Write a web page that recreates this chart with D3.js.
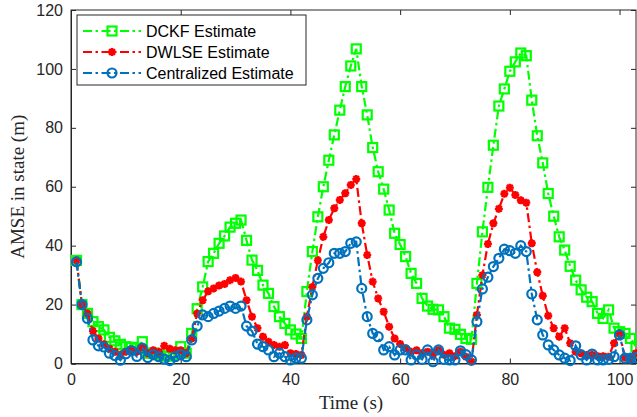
<!DOCTYPE html>
<html><head><meta charset="utf-8">
<script src="https://cdn.jsdelivr.net/npm/d3@7"></script>
<style>body{margin:0;background:#fff}svg{display:block}</style>
</head><body>
<svg id="c" width="637" height="417"></svg>
<script>
const seriesNames = ["DCKF Estimate", "DWLSE Estimate", "Centralized Estimate"];
const xTicks = [0, 20, 40, 60, 80, 100];
const yTicks = [0, 20, 40, 60, 80, 100, 120];
const dckf = [35,20,17,14.2,12.5,11.4,8.9,7.7,6.5,5.7,5.5,5.2,7.4,3.5,3.5,3,2.5,2.5,3,5.7,3.5,10.2,18.6,26,34.6,37.4,40.8,43.3,46.3,47.6,48.7,41.8,35.1,31.6,26.6,23.8,19.3,15.9,13.6,11.4,10,8.5,24.4,38,49.8,60,69,77.6,86,94,101,106.8,94,84.4,73.3,65.1,59.2,52.1,44.2,40.4,36.3,30.6,27.2,22.1,19.5,18.4,18.2,15.9,12,11.6,9.9,8.5,8.2,27.2,44.7,59.8,74.1,87.4,93.2,99.2,102.4,105.4,104.5,89.4,77.3,68.1,57.7,50,43,38.5,33,28.3,25,22.5,21,17,15.3,18.2,12,10.8,10.2,8.5,5.7];
const dwlse = [35,20,17,11,8.5,6.5,5,4,3,4,4.5,4,5.5,3.5,4.5,4,6,5,4.5,4.5,3.5,8.5,17,21.5,24.5,25.5,26.5,27,28.3,29,27.8,21.5,15.9,12,9.1,7.4,6.3,5.7,6.3,3.5,3.2,2.9,15.9,26,35,43,48.7,52.7,55.5,57.8,60.6,62.6,47.6,36.8,27.8,22.1,17.6,12.5,8.5,6.6,5.2,4,4.5,3.5,4,3,4.5,3,3.5,2.5,4,2.3,0.6,16.5,30,40.6,47.6,52.5,57.6,59.7,57.2,55.4,54.6,40.8,31,23,16.2,12,9.1,12,6.9,4,3.5,2.9,3,2.5,2.5,2.3,6.9,10.2,2,1.8,3.5];
const central = [34.5,20,15.3,8,6,5.6,3.5,2.7,1.1,3.3,4.4,2.4,5.2,2,3,2.3,1.5,1,2.3,3,2.3,8,12.7,16.5,15.9,17,17.8,18.7,19.5,18.7,19.5,12.7,11,6.6,5.7,4.6,2.3,3.5,2.3,1.2,1.8,1.8,14.8,23.3,28.9,32.3,34.2,37.4,37.4,38,40.8,41.3,25.5,15.9,10.2,9.1,4.6,5.7,2.9,4.6,4.6,1.2,2.9,1.4,4.6,0.6,4.6,1.4,1.2,1.2,4.3,3,1.2,14.2,25.3,29.3,32.9,35.7,38.8,38.3,37.4,40,38,23.6,14.8,9.7,6.3,4.6,2.9,1.8,1,6,2.9,1.2,3.2,1.2,1.2,1.4,2.3,9.7,1.8,1.8,2];

const svg = d3.select("#c");
const L = 71, R = 636, T = 10, B = 363.5;
const x = d3.scaleLinear().domain([0, 103]).range([L, R]);
const y = d3.scaleLinear().domain([0, 120]).range([B, T]);
const axisColor = "#262626";
const tickFont = "'Liberation Sans', Arial, sans-serif";
const serif = "'Liberation Serif', 'Times New Roman', serif";

svg.append("defs").append("clipPath").attr("id","clip")
  .append("rect").attr("x", L).attr("y", T - 6).attr("width", R - L + 1).attr("height", B - T + 12);

// axes
const gx = svg.append("g").attr("transform", `translate(0,${B})`)
  .call(d3.axisBottom(x).tickValues(xTicks).tickSize(-5).tickPadding(10));
const gy = svg.append("g").attr("transform", `translate(${L},0)`)
  .call(d3.axisLeft(y).tickValues(yTicks).tickSize(-5).tickPadding(8));
const gxt = svg.append("g").attr("transform", `translate(0,${T})`)
  .call(d3.axisTop(x).tickValues(xTicks).tickSize(-5).tickFormat(""));
const gyr = svg.append("g").attr("transform", `translate(${R},0)`)
  .call(d3.axisRight(y).tickValues(yTicks).tickSize(-5).tickFormat(""));
[gx, gy, gxt, gyr].forEach(g => {
  g.select(".domain").attr("stroke", axisColor).attr("stroke-width", 1);
  g.selectAll(".tick line").attr("stroke", axisColor).attr("stroke-width", 1);
  g.selectAll(".tick text").attr("fill", axisColor).attr("font-family", tickFont).attr("font-size", 16);
});
gxt.select(".domain").remove();
gyr.select(".domain").remove();
svg.append("rect").attr("x", L).attr("y", T).attr("width", R - L).attr("height", B - T)
  .attr("fill", "none").attr("stroke", axisColor).attr("stroke-width", 1);

svg.append("text").attr("x", 351).attr("y", 409).attr("text-anchor", "middle")
  .attr("font-family", serif).attr("font-size", 19)
  .attr("fill", axisColor).text("Time (s)");
svg.append("text").attr("transform", `translate(24,${(T + B) / 2}) rotate(-90)`).attr("text-anchor", "middle")
  .attr("font-family", serif).attr("font-size", 19)
  .attr("fill", axisColor).text("AMSE in state (m)");

const styles = [
  {data: dckf, color: "#00ff00", marker: "square"},
  {data: dwlse, color: "#ff0000", marker: "star"},
  {data: central, color: "#0072bd", marker: "circle"}
];
const dash = "9,3.5,2.5,3.5";
const plot = svg.append("g").attr("clip-path", "url(#clip)");
const line = d3.line().x((d, i) => x(i + 1)).y(d => y(d));

function drawMarker(g, type, color, cx, cy) {
  if (type === "square") {
    g.append("rect").attr("x", cx - 4.5).attr("y", cy - 4.5).attr("width", 9).attr("height", 9)
      .attr("fill", "none").attr("stroke", color).attr("stroke-width", 2.2);
  } else if (type === "circle") {
    g.append("circle").attr("cx", cx).attr("cy", cy).attr("r", 4.5)
      .attr("fill", "none").attr("stroke", color).attr("stroke-width", 2.2);
  } else {
    const r = 4, d = r * 0.72;
    g.append("path").attr("d",
      `M${cx - r},${cy}L${cx + r},${cy}M${cx},${cy - r}L${cx},${cy + r}` +
      `M${cx - d},${cy - d}L${cx + d},${cy + d}M${cx - d},${cy + d}L${cx + d},${cy - d}`)
      .attr("stroke", color).attr("stroke-width", 2.4).attr("fill", "none");
  }
}

styles.forEach(s => {
  plot.append("path").datum(s.data).attr("d", line).attr("fill", "none")
    .attr("stroke", s.color).attr("stroke-width", 2.2).attr("stroke-dasharray", dash);
  const mg = plot.append("g");
  s.data.forEach((v, i) => drawMarker(mg, s.marker, s.color, x(i + 1), y(v)));
});

// legend
const lg = svg.append("g");
lg.append("rect").attr("x", 77).attr("y", 15).attr("width", 229).attr("height", 70)
  .attr("fill", "#fff").attr("stroke", axisColor).attr("stroke-width", 1);
styles.forEach((s, i) => {
  const ly = 31 + i * 21;
  lg.append("line").attr("x1", 83).attr("x2", 141).attr("y1", ly).attr("y2", ly)
    .attr("stroke", s.color).attr("stroke-width", 2.2).attr("stroke-dasharray", dash);
  drawMarker(lg, s.marker, s.color, 112, ly);
  lg.append("text").attr("x", 146).attr("y", ly + 6).attr("font-family", tickFont)
    .attr("font-size", 16).attr("fill", "#000").text(seriesNames[i]);
});
</script>
</body></html>
